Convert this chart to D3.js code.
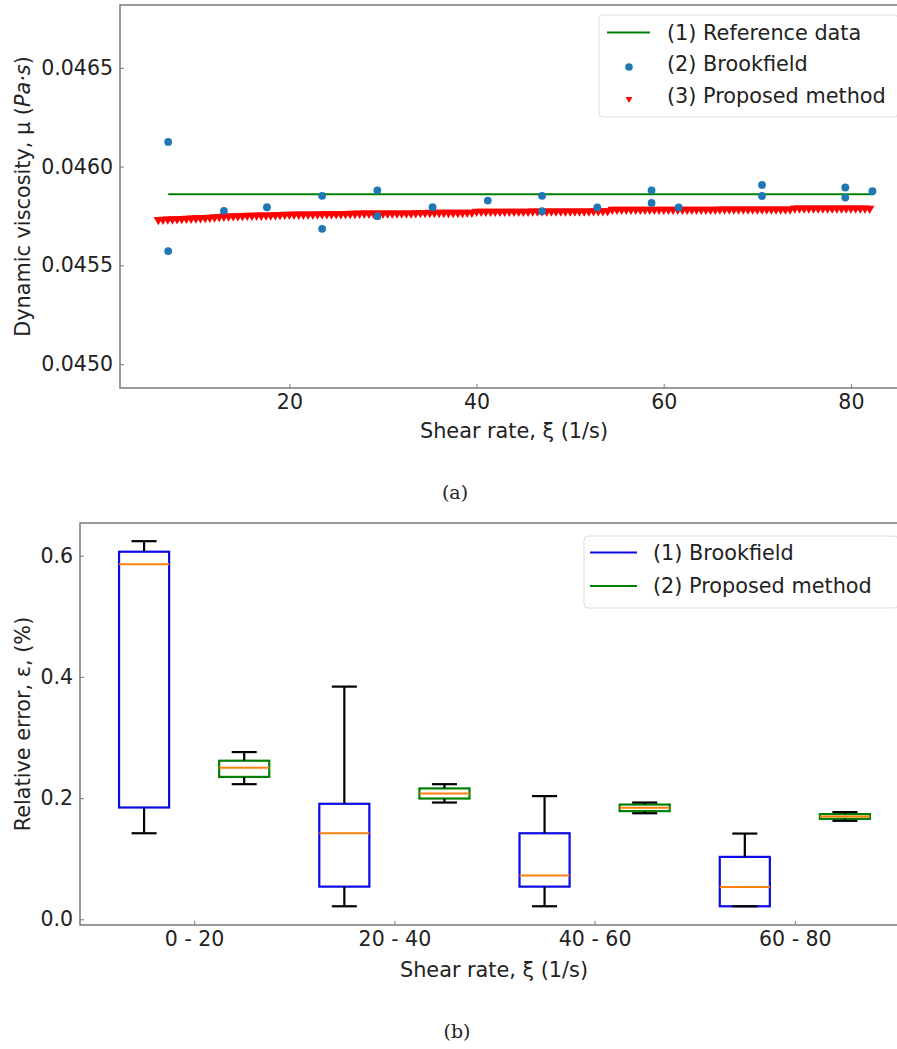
<!DOCTYPE html>
<html>
<head>
<meta charset="utf-8">
<script src="https://cdn.jsdelivr.net/npm/d3@7"></script>
<style>
  body { margin: 0; background: #fff; }
  text { font-family: "DejaVu Sans", sans-serif; fill: #222; }
  .caption { font-family: "DejaVu Serif", serif; }
</style>
</head>
<body>
<svg id="chart" width="897" height="1049"></svg>
<script>
// ---- panel (a): viscosity vs shear rate ----
const refX = [7.05, 82.3];
const refY = [0.04586, 0.04586];

const brookX = [7.05, 7.05, 13.0, 17.6, 23.5, 23.5, 29.4, 29.4, 35.3, 41.2, 47.0,
                47.0, 52.9, 58.7, 58.7, 61.6, 70.5, 70.5, 79.4, 79.4, 82.3];
const brookY = [0.046125, 0.045572, 0.045776, 0.045794, 0.045852, 0.045685, 0.04588,
                0.045749, 0.045794, 0.045828, 0.045852, 0.045774, 0.045793, 0.04588,
                0.045816, 0.045793, 0.045907, 0.045851, 0.045894, 0.045843, 0.045875];

// proposed method, sampled every 0.5 1/s from 6 to 82
const propStart = 6, propStep = 0.5;
const propY = [
  0.045731, 0.045732, 0.045733, 0.045734, 0.045735, 0.045736, 0.045737, 0.045738, 0.045739, 0.045740,
  0.045741, 0.045742, 0.045744, 0.045746, 0.045748, 0.045749, 0.045750, 0.045750, 0.045751, 0.045752,
  0.045752, 0.045753, 0.045753, 0.045754, 0.045754, 0.045755, 0.045756, 0.045757, 0.045757, 0.045758,
  0.045758, 0.045758, 0.045759, 0.045759, 0.045759, 0.045760, 0.045760, 0.045760, 0.045760, 0.045760,
  0.045761, 0.045762, 0.045762, 0.045763, 0.045763, 0.045763, 0.045763, 0.045763, 0.045763, 0.045763,
  0.045764, 0.045764, 0.045764, 0.045764, 0.045764, 0.045765, 0.045766, 0.045766, 0.045767, 0.045767,
  0.045767, 0.045767, 0.045767, 0.045767, 0.045767, 0.045767, 0.045768, 0.045768, 0.045773, 0.045773,
  0.045773, 0.045773, 0.045773, 0.045773, 0.045773, 0.045773, 0.045773, 0.045773, 0.045773, 0.045773,
  0.045774, 0.045774, 0.045774, 0.045774, 0.045774, 0.045774, 0.045774, 0.045774, 0.045774, 0.045774,
  0.045774, 0.045774, 0.045774, 0.045775, 0.045775, 0.045775, 0.045775, 0.045783, 0.045783, 0.045783,
  0.045783, 0.045783, 0.045783, 0.045783, 0.045783, 0.045783, 0.045783, 0.045783, 0.045783, 0.045783,
  0.045783, 0.045783, 0.045783, 0.045783, 0.045783, 0.045783, 0.045783, 0.045783, 0.045783, 0.045783,
  0.045784, 0.045784, 0.045784, 0.045784, 0.045784, 0.045784, 0.045784, 0.045784, 0.045784, 0.045784,
  0.045784, 0.045784, 0.045784, 0.045784, 0.045784, 0.045784, 0.045789, 0.045789, 0.045789, 0.045789,
  0.045789, 0.045789, 0.045789, 0.045789, 0.045789, 0.045789, 0.045789, 0.045789, 0.045789, 0.045789,
  0.045789, 0.045789, 0.045788
];

const aTicksX = [20, 40, 60, 80];
const aTicksY = [0.0450, 0.0455, 0.0460, 0.0465];

// ---- panel (b): relative error boxplots ----
const ranges = ["0 - 20", "20 - 40", "40 - 60", "60 - 80"];
// [low whisker, q1, median, q3, high whisker]
const brookStats = [
  [0.142, 0.1845, 0.586, 0.6066, 0.624],
  [0.0215, 0.0539, 0.142, 0.1906, 0.384],
  [0.0215, 0.0539, 0.0721, 0.142, 0.2033],
  [0.0215, 0.0215, 0.0534, 0.103, 0.1415]
];
const propStats = [
  [0.223, 0.235, 0.250, 0.2617, 0.276],
  [0.1927, 0.1993, 0.2076, 0.216, 0.223],
  [0.175, 0.1785, 0.184, 0.1894, 0.1927],
  [0.1625, 0.1658, 0.1696, 0.1736, 0.1769]
];
const bTicksY = [0.0, 0.2, 0.4, 0.6];

const svg = d3.select("#chart");
const spine = "#7a7a7a";
const fs = 20.8;
const blue = "#0a0ae6", green = "#008000";

function frame(g, x0, x1, y0, y1) {
  g.append("path")
    .attr("d", `M${x1},${y0}H${x0}V${y1}H${x1}`)
    .attr("fill", "none")
    .attr("stroke", spine)
    .attr("stroke-width", 1.5);
}

function styleAxis(sel) {
  sel.select(".domain").remove();
  sel.selectAll(".tick line").attr("stroke", spine).attr("stroke-width", 1);
  sel.selectAll(".tick text").attr("font-size", 20.5).attr("fill", "#222")
    .style("font-family", "DejaVu Sans");
}

// ================= panel (a) =================
{
  const L = 120, R = 908, T = 5, B = 388;
  const x = d3.scaleLinear().domain([1.9, 86.1]).range([L, R]);
  const y = d3.scaleLinear().domain([0.044879, 0.046818]).range([B, T]);
  const g = svg.append("g");

  // reference line
  g.append("path")
    .datum(refX.map((d, i) => [d, refY[i]]))
    .attr("d", d3.line().x(d => x(d[0])).y(d => y(d[1])))
    .attr("stroke", green).attr("stroke-width", 2.2).attr("fill", "none");

  // proposed method (triangle down)
  const tri = d3.symbol().type(d3.symbolTriangle).size(40);
  g.append("g").selectAll("path")
    .data(propY.map((v, i) => [propStart + i * propStep, v]))
    .join("path")
    .attr("d", tri)
    .attr("transform", d => `translate(${x(d[0])},${y(d[1])}) rotate(180)`)
    .attr("fill", "#ff0000");

  // Brookfield points
  g.append("g").selectAll("circle")
    .data(brookX.map((d, i) => [d, brookY[i]]))
    .join("circle")
    .attr("cx", d => x(d[0])).attr("cy", d => y(d[1]))
    .attr("r", 3.9).attr("fill", "#1f77b4");

  frame(g, L, R + 10, T, B);

  g.append("g").attr("transform", `translate(0,${B})`)
    .call(d3.axisBottom(x).tickValues(aTicksX).tickSize(-4).tickPadding(6).tickFormat(d3.format("d")))
    .call(styleAxis);
  g.append("g").attr("transform", `translate(${L},0)`)
    .call(d3.axisLeft(y).tickValues(aTicksY).tickSize(-4).tickPadding(7).tickFormat(d3.format(".4f")))
    .call(styleAxis);

  g.append("text").attr("x", (L + R) / 2).attr("y", 438)
    .attr("text-anchor", "middle").attr("font-size", fs)
    .text("Shear rate, ξ (1/s)");
  const yl = g.append("text")
    .attr("transform", `translate(30,${(T + B) / 2}) rotate(-90)`)
    .attr("text-anchor", "middle").attr("font-size", fs);
  yl.append("tspan").text("Dynamic viscosity, μ (");
  yl.append("tspan").attr("font-style", "italic").text("Pa·s");
  yl.append("tspan").text(")");

  // legend
  const lg = g.append("g");
  lg.append("rect").attr("x", 599).attr("y", 15).attr("width", 299).attr("height", 102)
    .attr("rx", 4).attr("fill", "#fff").attr("fill-opacity", 0.8)
    .attr("stroke", "#dcdcdc").attr("stroke-width", 1);
  const rows = [32.5, 64, 96];
  lg.append("line").attr("x1", 607).attr("x2", 650).attr("y1", rows[0]).attr("y2", rows[0])
    .attr("stroke", green).attr("stroke-width", 2.2);
  lg.append("circle").attr("cx", 629).attr("cy", rows[1] + 3).attr("r", 3.8).attr("fill", "#1f77b4");
  lg.append("path").attr("d", d3.symbol().type(d3.symbolTriangle).size(20))
    .attr("transform", `translate(629,${rows[2] + 3}) rotate(180)`).attr("fill", "#ff0000");
  ["(1) Reference data", "(2) Brookfield", "(3) Proposed method"].forEach((t, i) => {
    lg.append("text").attr("x", 667).attr("y", rows[i]).attr("dy", "0.35em")
      .attr("font-size", fs).text(t);
  });

  svg.append("text").attr("class", "caption").attr("x", 455).attr("y", 492)
    .attr("dy", "0.35em").attr("text-anchor", "middle").attr("font-size", 19).text("(a)");
}

// ================= panel (b) =================
{
  const L = 80, R = 908, T = 523, B = 925;
  const x = d3.scaleLinear().domain([0.43, 4.565]).range([L, R]);
  const y = d3.scaleLinear().domain([-0.0094, 0.654]).range([B, T]);
  const g = svg.append("g");
  const half = 0.125, capHalf = 0.0625;

  function boxes(stats, offset, color) {
    stats.forEach((s, i) => {
      const c = i + 1 + offset;
      const bg = g.append("g");
      bg.append("rect")
        .attr("x", x(c - half)).attr("width", x(c + half) - x(c - half))
        .attr("y", y(s[3])).attr("height", y(s[1]) - y(s[3]))
        .attr("fill", "none").attr("stroke", color).attr("stroke-width", 2.2);
      [[s[0], s[1]], [s[3], s[4]]].forEach(w => {
        bg.append("line").attr("x1", x(c)).attr("x2", x(c))
          .attr("y1", y(w[0])).attr("y2", y(w[1]))
          .attr("stroke", "#000").attr("stroke-width", 2.2);
      });
      [s[0], s[4]].forEach(v => {
        bg.append("line").attr("x1", x(c - capHalf)).attr("x2", x(c + capHalf))
          .attr("y1", y(v)).attr("y2", y(v))
          .attr("stroke", "#000").attr("stroke-width", 2.2);
      });
      bg.append("line").attr("x1", x(c - half)).attr("x2", x(c + half))
        .attr("y1", y(s[2])).attr("y2", y(s[2]))
        .attr("stroke", "#ff7f0e").attr("stroke-width", 2);
    });
  }
  boxes(brookStats, -0.25, blue);
  boxes(propStats, 0.25, green);

  frame(g, L, R + 10, T, B);

  g.append("g").attr("transform", `translate(0,${B})`)
    .call(d3.axisBottom(x).tickValues([1, 2, 3, 4]).tickSize(-4).tickPadding(6)
      .tickFormat((d, i) => ranges[i]))
    .call(styleAxis);
  g.append("g").attr("transform", `translate(${L},0)`)
    .call(d3.axisLeft(y).tickValues(bTicksY).tickSize(-4).tickPadding(7).tickFormat(d3.format(".1f")))
    .call(styleAxis);

  g.append("text").attr("x", (L + R) / 2).attr("y", 977)
    .attr("text-anchor", "middle").attr("font-size", fs)
    .text("Shear rate, ξ (1/s)");
  g.append("text")
    .attr("transform", `translate(30,${(T + B) / 2}) rotate(-90)`)
    .attr("text-anchor", "middle").attr("font-size", fs)
    .text("Relative error, ε, (%)");

  const lg = g.append("g");
  lg.append("rect").attr("x", 584).attr("y", 536).attr("width", 314).attr("height", 72)
    .attr("rx", 4).attr("fill", "#fff").attr("fill-opacity", 0.8)
    .attr("stroke", "#dcdcdc").attr("stroke-width", 1);
  const rows = [552.5, 586];
  [["(1) Brookfield", blue], ["(2) Proposed method", green]].forEach((e, i) => {
    lg.append("line").attr("x1", 590).attr("x2", 637).attr("y1", rows[i]).attr("y2", rows[i])
      .attr("stroke", e[1]).attr("stroke-width", 2.2);
    lg.append("text").attr("x", 653).attr("y", rows[i]).attr("dy", "0.35em")
      .attr("font-size", fs).text(e[0]);
  });

  svg.append("text").attr("class", "caption").attr("x", 457).attr("y", 1031)
    .attr("dy", "0.35em").attr("text-anchor", "middle").attr("font-size", 19).text("(b)");
}
</script>
</body>
</html>
